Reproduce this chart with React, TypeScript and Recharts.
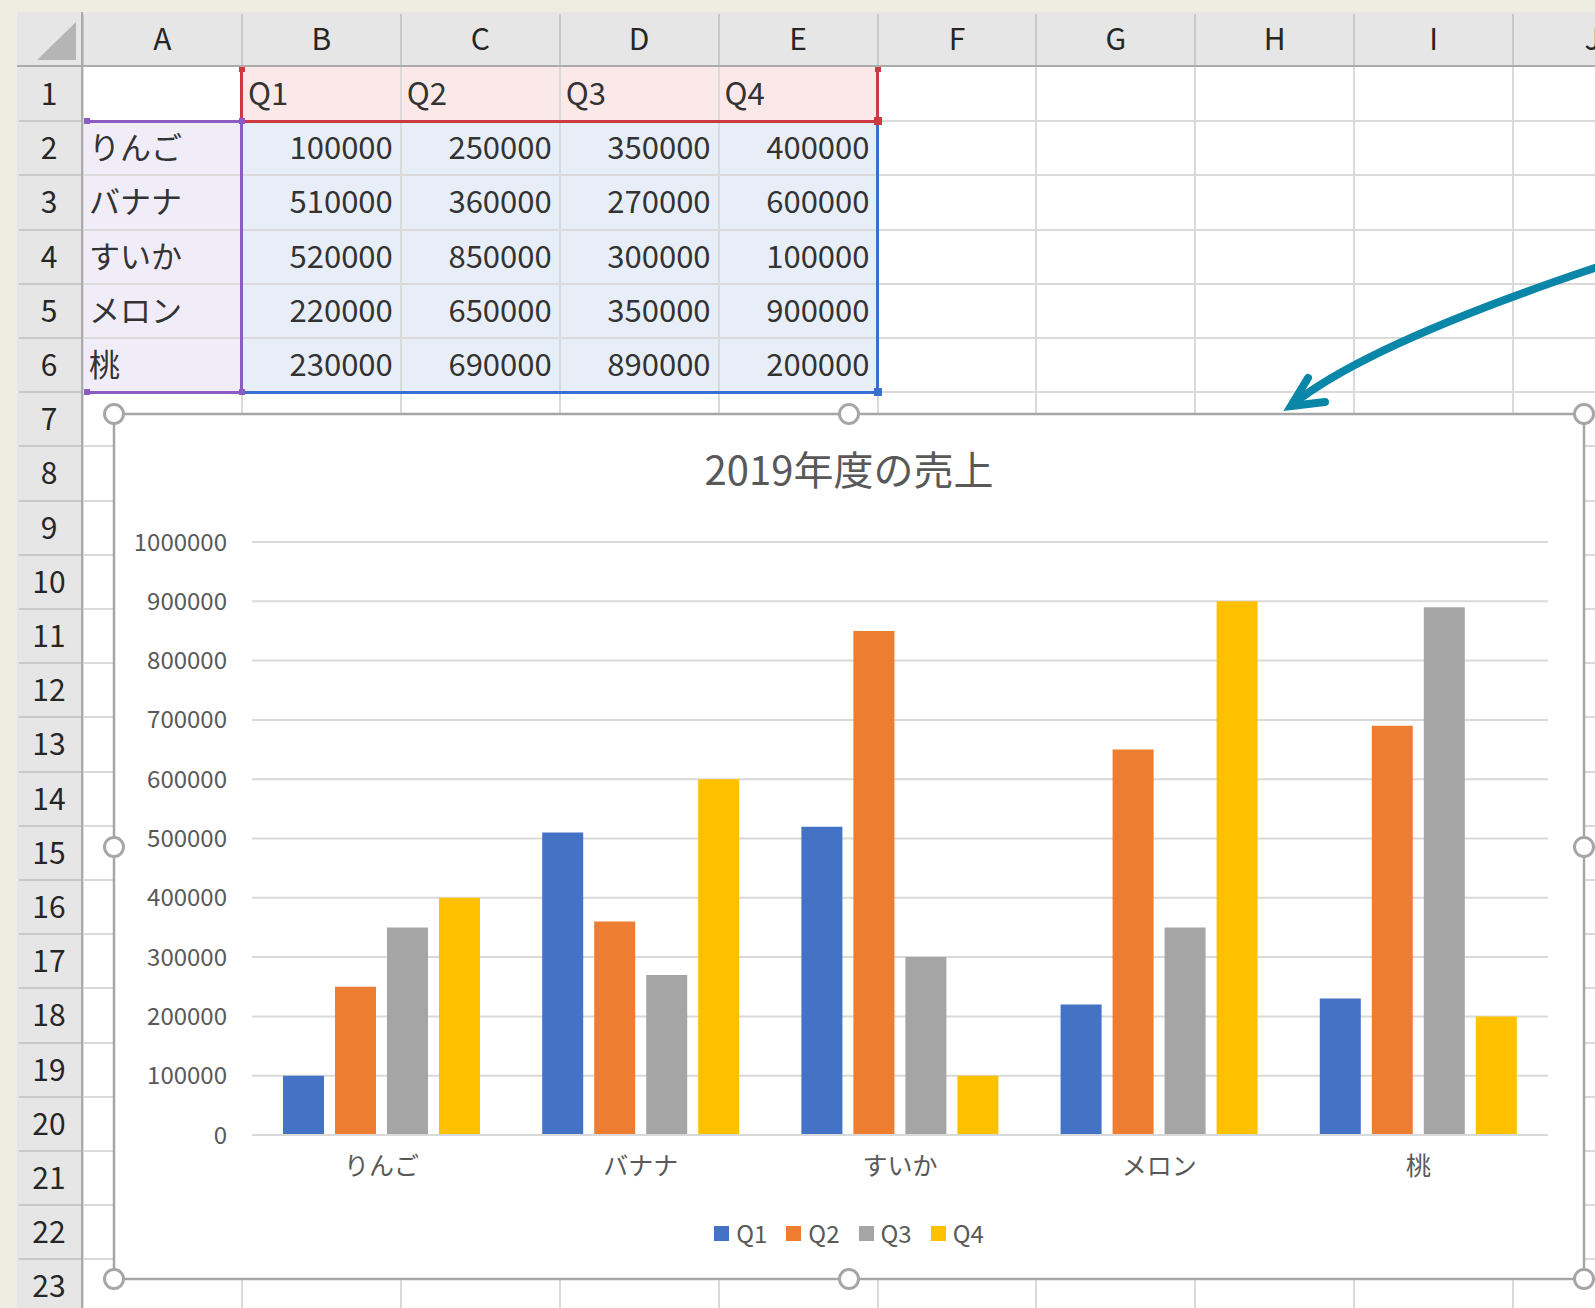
import { Bar, BarChart, CartesianGrid, Legend, XAxis, YAxis } from "recharts";

// data (same numbers as the sheet cells B2:E6)
const categories = ["りんご", "バナナ", "すいか", "メロン", "桃"];
const q1 = [100000, 510000, 520000, 220000, 230000];
const q2 = [250000, 360000, 850000, 650000, 690000];
const q3 = [350000, 270000, 300000, 350000, 890000];
const q4 = [400000, 600000, 100000, 900000, 200000];
const seriesNames = ["Q1", "Q2", "Q3", "Q4"];
const yTicks = [0, 100000, 200000, 300000, 400000, 500000, 600000, 700000, 800000, 900000, 1000000];
const columnLetters = ["A", "B", "C", "D", "E", "F", "G", "H", "I", "J"];
const chartTitle = "2019年度の売上";

const seriesValues = [q1, q2, q3, q4];
const seriesColors = ["#4472c4", "#ed7d31", "#a5a5a5", "#ffc000"];

const rows = categories.map((name, i) => {
  const row: Record<string, string | number> = { name };
  seriesNames.forEach((s, j) => {
    row[s] = seriesValues[j][i];
  });
  return row;
});

const FONT = '"Noto Sans CJK JP", "Noto Sans", sans-serif';

// sheet geometry
const COL_W = 158.9;
const ROW_H = 54.2;
const colX = (i: number) => 83 + i * COL_W;
const rowY = (r: number) => 67 + (r - 1) * ROW_H;

function Line({ x, y, w, h, c }: { x: number; y: number; w: number; h: number; c: string }) {
  return <div style={{ position: "absolute", left: x, top: y, width: w, height: h, background: c }} />;
}

function Cell({ c, r, text, right }: { c: number; r: number; text: string; right?: boolean }) {
  return (
    <div
      style={{
        position: "absolute",
        left: colX(c) + 6,
        width: COL_W - 14,
        top: rowY(r) - 2,
        height: ROW_H,
        lineHeight: `${ROW_H}px`,
        fontSize: 31,
        color: "#333",
        textAlign: right ? "right" : "left",
        whiteSpace: "nowrap",
      }}
    >
      {text}
    </div>
  );
}

function Sheet() {
  const rowNums = Array.from({ length: 24 }, (_, i) => i + 1);
  return (
    <div style={{ position: "absolute", left: 0, top: 0, width: 1595, height: 1308 }}>
      {/* cells area */}
      <div style={{ position: "absolute", left: 17, top: 12, right: 0, bottom: 0, background: "#fff" }} />
      {/* selection fills */}
      <div style={{ position: "absolute", left: colX(1), top: rowY(1), width: colX(5) - colX(1), height: ROW_H, background: "#fbe9ea" }} />
      <div style={{ position: "absolute", left: colX(0), top: rowY(2), width: COL_W, height: ROW_H * 5, background: "#f0edf8" }} />
      <div style={{ position: "absolute", left: colX(1), top: rowY(2), width: colX(5) - colX(1), height: ROW_H * 5, background: "#e8eef8" }} />
      {/* grid lines */}
      {Array.from({ length: 11 }, (_, i) => (
        <Line key={"v" + i} x={colX(i) - 1} y={67} w={2} h={1308 - 67} c="#dadada" />
      ))}
      {rowNums.slice(1).map((r) => (
        <Line key={"h" + r} x={83} y={rowY(r) - 1} w={1595 - 83} h={2} c="#dadada" />
      ))}
      {/* headers */}
      <div style={{ position: "absolute", left: 17, top: 12, right: 0, height: 55, background: "#e6e6e6" }} />
      <div style={{ position: "absolute", left: 17, top: 12, width: 66, bottom: 0, background: "#e6e6e6" }} />
      {Array.from({ length: 11 }, (_, i) => (
        <Line key={"hv" + i} x={colX(i) - 1} y={14} w={2} h={53} c="#c9c9c9" />
      ))}
      {rowNums.slice(1).map((r) => (
        <Line key={"hh" + r} x={19} y={rowY(r) - 1} w={64} h={2} c="#c9c9c9" />
      ))}
      <Line x={17} y={65} w={1595 - 17} h={2} c="#ababab" />
      <Line x={81} y={12} w={2} h={1308 - 12} c="#ababab" />
      <svg style={{ position: "absolute", left: 0, top: 0 }} width={83} height={67}>
        <polygon points="37,60 76,60 76,22" fill="#b5b5b5" />
      </svg>
      {columnLetters.map((l, i) => (
        <div
          key={l}
          style={{
            position: "absolute",
            left: colX(i),
            width: COL_W,
            top: 10,
            height: 55,
            lineHeight: "55px",
            textAlign: "center",
            fontSize: 30,
            color: "#262626",
          }}
        >
          {l}
        </div>
      ))}
      {rowNums.map((r) => (
        <div
          key={"n" + r}
          style={{
            position: "absolute",
            left: 17,
            width: 64,
            top: rowY(r) - 2,
            height: ROW_H,
            lineHeight: `${ROW_H}px`,
            textAlign: "center",
            fontSize: 30,
            color: "#262626",
          }}
        >
          {r}
        </div>
      ))}
      {/* cell contents */}
      {seriesNames.map((s, j) => (
        <Cell key={s} c={j + 1} r={1} text={s} />
      ))}
      {categories.map((name, i) => (
        <Cell key={name} c={0} r={i + 2} text={name} />
      ))}
      {seriesValues.map((vals, j) =>
        vals.map((v, i) => <Cell key={j + "-" + i} c={j + 1} r={i + 2} text={String(v)} right />)
      )}
      {/* range highlight borders */}
      <Line x={colX(1) - 1.5} y={rowY(1)} w={3} h={ROW_H} c="#cc3a41" />
      <Line x={colX(5) - 1.5} y={rowY(1)} w={3} h={ROW_H} c="#cc3a41" />
      <Line x={colX(1)} y={rowY(2) - 1.5} w={colX(5) - colX(1)} h={3} c="#cc3a41" />
      <Line x={colX(0) + 2} y={rowY(2) - 1.5} w={COL_W - 2} h={3} c="#8b5dc3" />
      <Line x={colX(0) + 2} y={rowY(7) - 1.5} w={COL_W - 2} h={3} c="#8b5dc3" />
      <Line x={colX(1) - 1.5} y={rowY(2)} w={3} h={ROW_H * 5} c="#8b5dc3" />
      <Line x={colX(5) - 1.5} y={rowY(2) + 2} w={3} h={ROW_H * 5 - 2} c="#3a6fd2" />
      <Line x={colX(1) + 2} y={rowY(7) - 1.5} w={colX(5) - colX(1) - 2} h={3} c="#3a6fd2" />
      <Line x={colX(1) - 3} y={rowY(1)} w={6} h={5} c="#cc3a41" />
      <Line x={colX(5) - 3} y={rowY(1)} w={6} h={5} c="#cc3a41" />
      <Line x={colX(5) - 4} y={rowY(2) - 4} w={8} h={8} c="#cc3a41" />
      <Line x={colX(0) + 1} y={rowY(2) - 3} w={6} h={6} c="#8b5dc3" />
      <Line x={colX(1) - 3} y={rowY(2) - 3} w={6} h={6} c="#8b5dc3" />
      <Line x={colX(0) + 1} y={rowY(7) - 3} w={6} h={6} c="#8b5dc3" />
      <Line x={colX(1) - 3} y={rowY(7) - 3} w={6} h={6} c="#8b5dc3" />
      <Line x={colX(5) - 4} y={rowY(7) - 4} w={8} h={8} c="#3a6fd2" />
    </div>
  );
}

const renderLegend = (props: any) => (
  <div style={{ display: "flex", justifyContent: "center", alignItems: "center", gap: 19, fontSize: 24, color: "#595959", lineHeight: "32px" }}>
    {(props.payload || []).map((item: any) => (
      <div key={item.value} style={{ display: "flex", alignItems: "center" }}>
        <span style={{ display: "inline-block", width: 15, height: 15, background: item.color, marginRight: 7 }} />
        <span>{item.value}</span>
      </div>
    ))}
  </div>
);

function SalesChart() {
  return (
    <div style={{ position: "absolute", left: 114, top: 414, width: 1470, height: 865, background: "#fff" }}>
      <BarChart
        width={1470}
        height={865}
        data={rows}
        margin={{ top: 128, right: 36, bottom: 84, left: 38 }}
        barCategoryGap={31}
        barGap={11}
      >
        <CartesianGrid vertical={false} stroke="#d9d9d9" strokeWidth={2} />
        <XAxis
          dataKey="name"
          axisLine={{ stroke: "#d9d9d9", strokeWidth: 2 }}
          tickLine={false}
          tickSize={0}
          tickMargin={22}
          height={60}
          interval={0}
          tick={{ fill: "#595959", fontSize: 25 }}
        />
        <YAxis
          domain={[0, 1000000]}
          ticks={yTicks}
          axisLine={false}
          tickLine={false}
          tickSize={0}
          tickMargin={25}
          width={100}
          interval={0}
          tickFormatter={(v: number) => String(v)}
          tick={{ fill: "#595959", fontSize: 24 }}
        />
        <Legend
          verticalAlign="middle"
          align="center"
          content={renderLegend}
          wrapperStyle={{ top: 803, left: 0, width: 1470, height: 32 }}
        />
        {seriesNames.map((s, i) => (
          <Bar key={s} dataKey={s} fill={seriesColors[i]} isAnimationActive={false} />
        ))}
      </BarChart>
      <div
        style={{
          position: "absolute",
          top: 29,
          left: 0,
          width: "100%",
          textAlign: "center",
          fontSize: 40,
          lineHeight: "50px",
          color: "#595959",
          pointerEvents: "none",
        }}
      >
        {chartTitle}
      </div>
    </div>
  );
}

function Overlay() {
  const handles = [
    [114, 414],
    [849, 414],
    [1584, 414],
    [114, 847],
    [1584, 847],
    [114, 1279],
    [849, 1279],
    [1584, 1279],
  ];
  return (
    <svg style={{ position: "absolute", left: 0, top: 0, pointerEvents: "none" }} width={1595} height={1308}>
      <rect x={114} y={414} width={1470} height={865} fill="none" stroke="#a6a6a6" strokeWidth={2.5} />
      {handles.map(([x, y]) => (
        <circle key={x + "," + y} cx={x} cy={y} r={9.5} fill="#fff" stroke="#a6a6a6" strokeWidth={3} />
      ))}
      <path d="M1625 258 Q1373 340 1293 404" fill="none" stroke="#0a86a8" strokeWidth={8} strokeLinecap="round" />
      <path
        d="M1308 378 L1291 406 L1325 402"
        fill="none"
        stroke="#0a86a8"
        strokeWidth={8}
        strokeLinecap="round"
        strokeLinejoin="miter"
      />
    </svg>
  );
}

export default function App() {
  return (
    <div
      style={{
        position: "absolute",
        left: 0,
        top: 0,
        width: 1595,
        height: 1308,
        overflow: "hidden",
        background: "#eeede2",
        fontFamily: FONT,
      }}
    >
      <Sheet />
      <SalesChart />
      <Overlay />
    </div>
  );
}
